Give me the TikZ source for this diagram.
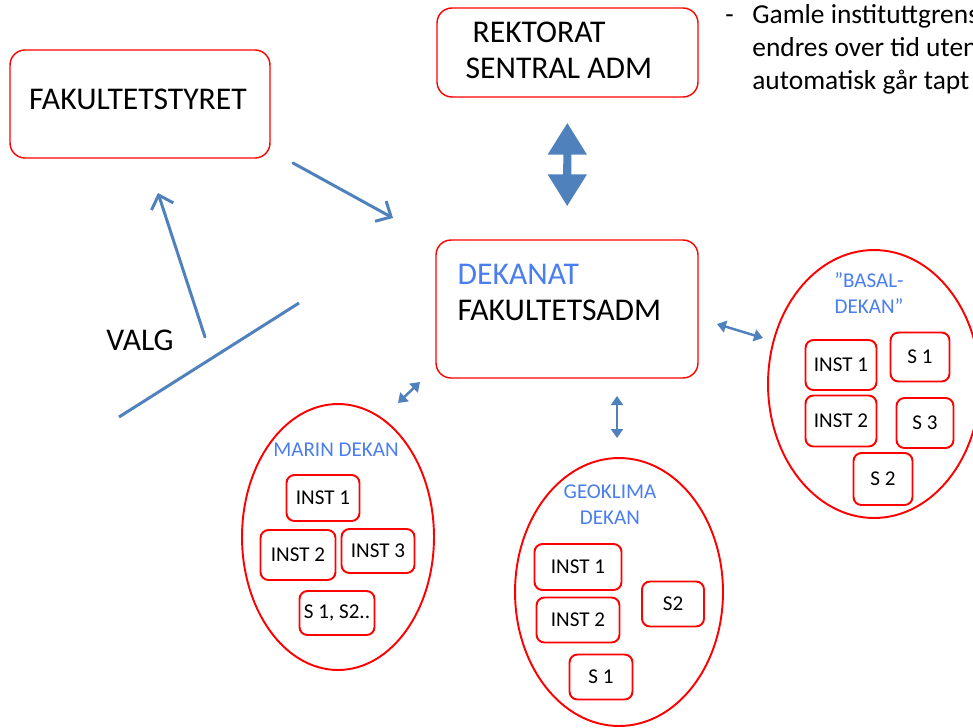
\documentclass[tikz,border=0pt]{standalone}
\usepackage{fontspec}
\setmainfont{Carlito}
\usepackage{xcolor}
\definecolor{boxred}{HTML}{FF0000}
\definecolor{dekanblue}{HTML}{4A7DF0}
\definecolor{arrowblue}{HTML}{4F81BD}
\usetikzlibrary{shapes.geometric, arrows.meta, positioning, calc}

\begin{document}
\begin{tikzpicture}[
  x=0.02cm, y=-0.02cm,
  every node/.style={font=\fontsize{18}{21}\selectfont, inner sep=0pt},
  bigbox/.style={draw=boxred, line width=0.8pt, rounded corners=0.3cm},
  instbox/.style={draw=boxred, line width=1.1pt, rounded corners=0.16cm, font=\fontsize{12}{14}\selectfont},
  dekanoval/.style={draw=boxred, line width=1.1pt, ellipse},
  dekanlabel/.style={text=dekanblue, font=\fontsize{12}{14.7}\selectfont, align=center},
  flowarrow/.style={draw=arrowblue, line width=1.7pt, line cap=round, -{Straight Barb[length=2.4mm, width=4.6mm]}},
  linkarrow/.style={draw=arrowblue, line width=1.4pt, {Triangle[length=1.8mm, width=2.4mm]}-{Triangle[length=1.8mm, width=2.4mm]}},
  bigarrow/.style={draw=arrowblue, line width=4.6pt, {Triangle[length=0.64cm, width=0.74cm]}-{Triangle[length=0.64cm, width=0.74cm]}}
]
  \useasboundingbox (0,0) rectangle (973,727);

  % top row
  \node[bigbox, minimum width=5.2cm, minimum height=2.16cm] (styret) at (140,104) {};
  \node (styrettxt) at (138,99) {FAKULTETSTYRET};
  \node[bigbox, minimum width=5.22cm, minimum height=1.78cm] (rektorat) at (567.5,52.5) {};
  \node[anchor=west] (rektorattxt) at ($(rektorat.north west)+(36,25)$) {REKTORAT};
  \node[anchor=west] (sentraltxt) at ($(rektorat.north west)+(29,61)$) {SENTRAL ADM};
  \node[anchor=north west, align=left, font=\fontsize{15.6}{18.7}\selectfont] (note) at (725,4)
    {\makebox[0.54cm][l]{-}Gamle instituttgrenser\\
     \hspace{0.54cm}endres over tid uten\\
     \hspace{0.54cm}automatisk går tapt};

  % dekanat
  \node[bigbox, minimum width=5.24cm, minimum height=2.76cm] (dekanat) at (567,309) {};
  \node[anchor=west, text=dekanblue] (dekanattxt) at ($(dekanat.north west)+(22,35)$) {DEKANAT};
  \node[anchor=west] (fakadmtxt) at ($(dekanat.north west)+(22,71)$) {FAKULTETSADM};

  \draw[bigarrow, shorten <=0.5cm, shorten >=0.66cm] (rektorat) -- (dekanat);

  % valg
  \node (valg) at (140,340) {VALG};
  \coordinate (valgfoot) at (205,337);
  \coordinate (valgtop) at (158,193);
  \coordinate (styretout) at (293,163);
  \coordinate (dekanatin) at (393,218);
  \coordinate (cutlow) at (119,417);
  \coordinate (cuthigh) at (299,303);
  \draw[flowarrow] (valgfoot) -- (valgtop);
  \draw[flowarrow] (styretout) -- (dekanatin);
  \draw[draw=arrowblue, line width=1.7pt] (cutlow) -- (cuthigh);

  % marin
  \node[dekanoval, minimum width=3.84cm, minimum height=5.32cm] (marin) at (338,537) {};
  \node[dekanlabel] (marinlbl) at (336,450) {MARIN DEKAN};
  \node[instbox, minimum width=1.46cm, minimum height=0.92cm] (minst1) at (323,498) {INST 1};
  \node[instbox, minimum width=1.50cm, minimum height=1.00cm] (minst2) at (298,555) {INST 2};
  \node[instbox, minimum width=1.46cm, minimum height=0.88cm] (minst3) at (378,551) {INST 3};
  \node[instbox, minimum width=1.50cm, minimum height=0.88cm] (ms) at (337,613) {S 1, S2..};

  % geoklima
  \node[dekanoval, minimum width=4.16cm, minimum height=5.36cm] (geoklima) at (619,592) {};
  \node[dekanlabel] (geoklimalbl) at (610,505) {GEOKLIMA\\DEKAN};
  \node[instbox, minimum width=1.74cm, minimum height=0.92cm] (ginst1) at (578,567) {INST 1};
  \node[instbox, minimum width=1.66cm, minimum height=0.90cm] (ginst2) at (578,620) {INST 2};
  \node[instbox, minimum width=1.24cm, minimum height=0.90cm] (gs2) at (673,604) {S2};
  \node[instbox, minimum width=1.26cm, minimum height=0.90cm] (gs1) at (601,677) {S 1};

  % basal
  \node[dekanoval, minimum width=4.24cm, minimum height=5.36cm] (basal) at (874,384) {};
  \node[dekanlabel] (basallbl) at (869,293) {”BASAL-\\DEKAN”};
  \node[instbox, minimum width=1.42cm, minimum height=1.00cm] (binst1) at (841,365) {INST 1};
  \node[instbox, minimum width=1.18cm, minimum height=0.98cm] (bs1) at (920,357) {S 1};
  \node[instbox, minimum width=1.42cm, minimum height=1.02cm] (binst2) at (841,421) {INST 2};
  \node[instbox, minimum width=1.14cm, minimum height=1.00cm] (bs3) at (925,423) {S 3};
  \node[instbox, minimum width=1.18cm, minimum height=1.04cm] (bs2) at (883,479) {S 2};

  % links to dekanat
  \coordinate (marinend) at (398,403);
  \coordinate (marinstart) at (420,382);
  \coordinate (geoend) at (617,438);
  \coordinate (geostart) at (617,396);
  \coordinate (basalstart) at (717,324);
  \coordinate (basalend) at (763,338);
  \draw[linkarrow] (marinstart) -- (marinend);
  \draw[linkarrow] (geostart) -- (geoend);
  \draw[linkarrow] (basalstart) -- (basalend);
\end{tikzpicture}
\end{document}
